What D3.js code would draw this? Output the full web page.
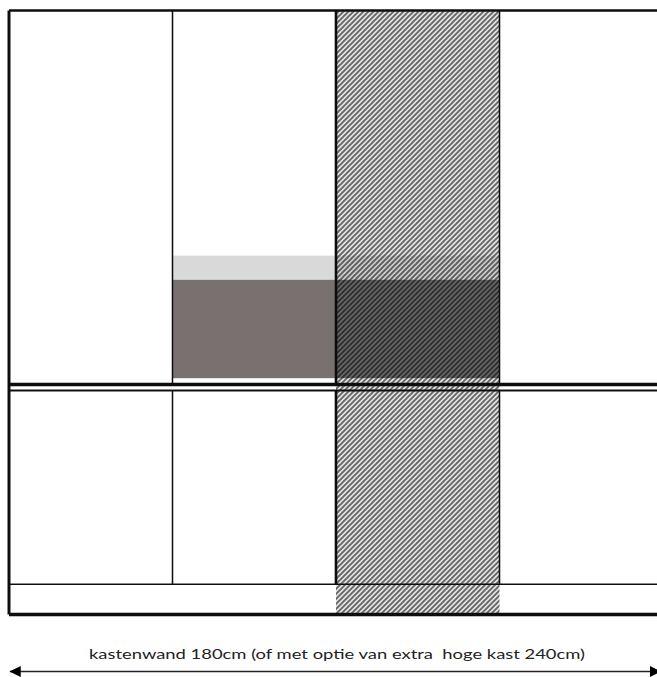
<!DOCTYPE html>
<html><head><meta charset="utf-8">
<script src="https://cdn.jsdelivr.net/npm/d3@7"></script>
<style>html,body{margin:0;padding:0;background:#fff;overflow:hidden}svg{display:block}</style>
</head><body><svg id="c" width="657" height="677"></svg>
<script>
// widths and heights in cm
const wallWidth = 180, wallHeight = 240;
const columnEdges = [45, 90, 135];
const plinthTop = 12, lowerTop = 89, upperBottom = 91.4;
const dimmedColumn = [90, 135];
const shelfBands = [
  {from: 133, to: 142.6, color: "#d9d9d9", shade: 0.1},
  {from: 93.9, to: 133, color: "#787170", shade: 0.55}
];
const bandColumns = [45, 90];
const caption = "kastenwand 180cm (of met optie van extra  hoge kast 240cm)";

const svg = d3.select("#c");
const x = d3.scaleLinear().domain([0, wallWidth]).range([9, 663]);
const y = d3.scaleLinear().domain([0, wallHeight]).range([614.5, 10.5]);

const defs = svg.append("defs");
const hatch = defs.append("pattern").attr("id", "hatch").attr("patternUnits", "userSpaceOnUse")
  .attr("width", 5).attr("height", 5);
hatch.append("rect").attr("width", 5).attr("height", 5).attr("fill", "#e4e4e4");
hatch.append("path").attr("d", "M-1,6 L6,-1 M-6,6 L1,-1 M4,6 L11,-1")
  .attr("stroke", "#666").attr("stroke-width", 1.9).attr("fill", "none");
const soft = defs.append("filter").attr("id", "soft").attr("x", "-2%").attr("y", "-2%").attr("width", "104%").attr("height", "104%");
soft.append("feGaussianBlur").attr("stdDeviation", 0.45);
const mk = (id, d, rx) => {
  defs.append("marker").attr("id", id).attr("viewBox", "0 0 10 10").attr("refX", rx).attr("refY", 5)
    .attr("markerUnits", "userSpaceOnUse").attr("markerWidth", 11).attr("markerHeight", 11).attr("orient", "auto")
    .append("path").attr("d", d).attr("fill", "#000");
};
mk("aEnd", "M0,0 L10,5 L0,10 Z", 10);
mk("aStart", "M10,0 L0,5 L10,10 Z", 0);

const g = svg.append("g").attr("filter", "url(#soft)");

// shelf bands
g.selectAll("rect.band").data(shelfBands).join("rect").attr("class", "band")
  .attr("x", x(bandColumns[0])).attr("width", x(bandColumns[1]) - x(bandColumns[0]))
  .attr("y", d => y(d.to)).attr("height", d => y(d.from) - y(d.to)).attr("fill", d => d.color);

// hatched column
g.append("rect").attr("x", x(dimmedColumn[0])).attr("width", x(dimmedColumn[1]) - x(dimmedColumn[0]))
  .attr("y", y(wallHeight)).attr("height", y(0) - y(wallHeight)).attr("fill", "url(#hatch)");

g.selectAll("rect.shade").data(shelfBands).join("rect").attr("class", "shade")
  .attr("x", x(dimmedColumn[0])).attr("width", x(dimmedColumn[1]) - x(dimmedColumn[0]))
  .attr("y", d => y(d.to)).attr("height", d => y(d.from) - y(d.to)).attr("fill", "#000").attr("opacity", d => d.shade);

const line = (x1, y1, x2, y2, w, c) => g.append("line")
  .attr("x1", x(x1)).attr("x2", x(x2)).attr("y1", y(y1)).attr("y2", y(y2))
  .attr("stroke", c || "#111").attr("stroke-width", w);

// column dividers
columnEdges.forEach(e => {
  const w = e === 90 ? 2.6 : 1.5;
  line(e, upperBottom, e, wallHeight, w);
  line(e, plinthTop, e, lowerTop, w);
});
// horizontals
line(0, wallHeight, wallWidth, wallHeight, 2.4);
line(0, upperBottom, wallWidth, upperBottom, 3.4);
line(0, lowerTop, wallWidth, lowerTop, 2);
line(0, plinthTop, wallWidth, plinthTop, 1.6);
line(0, 0, wallWidth, 0, 3.4);
line(0, 0, 0, wallHeight, 3);

// dimension arrow
g.append("line").attr("x1", x(0.2)).attr("x2", x(179.4)).attr("y1", 671.5).attr("y2", 671.5)
  .attr("stroke", "#222").attr("stroke-width", 1.7)
  .attr("marker-start", "url(#aStart)").attr("marker-end", "url(#aEnd)");

svg.append("text").attr("x", 89).attr("y", 659).text(caption)
  .attr("font-family", "Lato").attr("font-size", 14.2).attr("fill", "#222")
  .attr("textLength", 496).attr("lengthAdjust", "spacingAndGlyphs").style("white-space", "pre");
</script></body></html>
